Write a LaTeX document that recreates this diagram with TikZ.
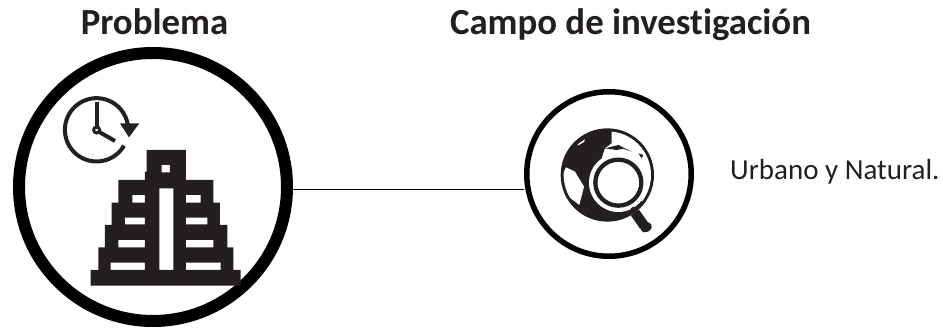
\documentclass[tikz,border=0pt]{standalone}
\usepackage{fontspec}
\setmainfont[Ligatures=NoCommon]{Carlito}
\definecolor{icon}{HTML}{231F20}
\tikzset{
  ringbig/.style={circle,draw=black,line width=12pt,minimum size=268pt,inner sep=0pt},
  ringsmall/.style={circle,draw=black,line width=5.5pt,minimum size=164.5pt,inner sep=0pt},
  heading/.style={font=\bfseries\fontsize{36.8}{40}\selectfont,text=icon,inner sep=0pt,anchor=base},
  bodytext/.style={font=\fontsize{29}{33}\selectfont,text=icon,inner sep=0pt,anchor=base west},
  link/.style={draw=black,line width=0.9pt}
}
\begin{document}
\begin{tikzpicture}[x=1pt,y=-1pt]
\useasboundingbox (0,0) rectangle (943,331);
\fill[white] (0,0) rectangle (943,331);
\node[heading] (t1) at (154.5,35) {Problema};
\node[heading] (t2) at (630.5,35) {Campo de investigación};
\node[bodytext] (t3) at (730,180) {Urbano y Natural.};
\node[ringbig] (c1) at (153,187) {};
\node[ringsmall] (c2) at (609,174) {};
\coordinate (la) at (c1.east |- 0,189.5);
\coordinate (lb) at (c2.west |- 0,189.5);
\draw[link] (la) -- (lb);
% pyramid + clock, coordinates of 3x crop
\begin{scope}[shift={(0,40)},x=0.3333pt,y=-0.3333pt]
 \fill[icon,even odd rule]
  (272,737)--(722,737)--(722,690)--(700,690)--(700,622)--(682,622)--(682,555)--(660,555)--(660,488)--(640,488)--(640,420)--(558,420)--(558,395)--(558,330)--(440,330)--(440,395)--(435,395)--(435,420)--(355,420)--(355,488)--(335,488)--(335,555)--(315,555)--(315,622)--(295,622)--(295,690)--(272,690)--cycle
  (485,375) rectangle (510,397)
  (478,445) rectangle (520,690)
  (397,465) rectangle (435,488) (558,465) rectangle (602,488)
  (375,533) rectangle (435,553) (558,533) rectangle (622,553)
  (355,600) rectangle (435,622) (558,600) rectangle (640,622)
  (332,668) rectangle (435,690) (558,668) rectangle (662,690);
 \draw[icon,line width=4pt] (372,317) arc[start angle=30,delta angle=325,radius=95];
 \fill[icon] (360,250)--(418,250)--(387,292)--cycle;
 \draw[icon,line width=4pt] (290,262)--(290,185);
 \draw[icon,line width=4pt] (298,276)--(345,303);
 \draw[icon,line width=3pt] (290,270) circle[radius=9];
\end{scope}
% globe + magnifier, coordinates of 3x crop
\begin{scope}[shift={(510,90)},x=0.3333pt,y=-0.3333pt]
 \fill[icon] (292,255) circle[radius=140];
 \begin{scope}
  \clip (292,255) circle[radius=131];
  \fill[white] (168,232)--(195,245)--(222,290)--(208,345)--(175,320)--(150,270)--cycle;
  \fill[white] (305,125)--(345,110)--(420,160)--(450,230)--(450,300)--(400,340)--(340,260)--(275,205)--(285,175)--(305,160)--cycle;
 \end{scope}
 \fill[icon] (285,175)--(325,165)--(365,185)--(340,176)--(320,180)--cycle;
 \fill[icon] (385,190)--(400,195)--(395,205)--cycle;
 \fill[white] (203,163)--(225,148)--(222,156)--(205,166)--cycle;
 \fill[white] (325,278) circle[radius=88];
 \draw[icon,line width=4.3pt] (325,278) circle[radius=69];
 \draw[icon,line width=3.5pt] (367,352)--(376,368);
 \draw[icon,line width=10pt] (375,368)--(403,408);
 \draw[icon,line width=9pt,line cap=round] (405,414)--(412,410);
\end{scope}
\end{tikzpicture}
\end{document}
